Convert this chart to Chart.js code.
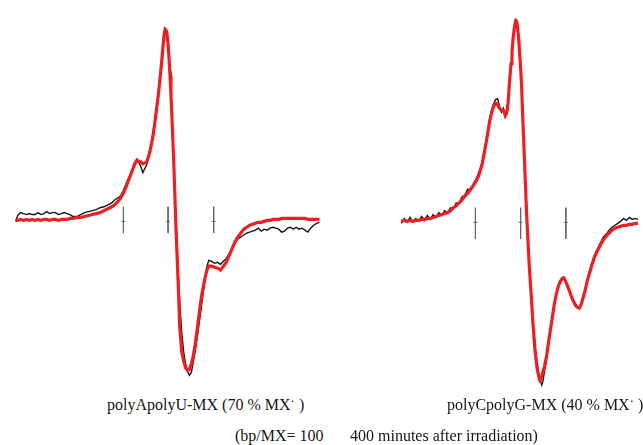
<!DOCTYPE html>
<html>
<head>
<meta charset="utf-8">
<script src="https://cdn.jsdelivr.net/npm/chart.js@4"></script>
<style>
  html, body { margin: 0; padding: 0; background: #fff; }
  body { width: 643px; height: 445px; position: relative; overflow: hidden; }
  .panel { position: absolute; top: 0; height: 395px; }
  .lbl { position: absolute; font-family: "Liberation Serif", "DejaVu Serif", serif; font-size: 16px; color: #161616; white-space: nowrap; line-height: 18px; }
  .rad { position: relative; top: -5px; font-size: 13px; }
</style>
</head>
<body>
<div class="panel" style="left:0;width:340px;"><canvas id="left"></canvas></div>
<div class="panel" style="left:380px;width:263px;"><canvas id="right"></canvas></div>
<div class="lbl" style="left:107px;top:396px;">polyApolyU-MX (70 % MX<span class="rad">·</span> )</div>
<div class="lbl" style="left:447px;top:396px;">polyCpolyG-MX (40 % MX<span class="rad">·</span> )</div>
<div class="lbl" style="left:235px;top:427px;">(bp/MX= 100</div>
<div class="lbl" style="left:350px;top:427px;">400 minutes after irradiation)</div>
<script>
// ---- polyApolyU-MX panel (field offset from centre marker, arb. units; signal, arb. units)
const leftField = [
  -157,-155,-152,-149,-146,-143,-140,-137,-134,-131,
  -128,-125,-122,-119,-116,-113,-110,-107,-104,-101,
  -98,-94,-90,-86,-82,-78,-74,-70,-66,-62,
  -58,-55,-52,-49,-46,-43,-40,-37,-34,-32,
  -30,-28,-26,-24,-22,-20,-18,-16,-14,-12,
  -10,-8,-6,-5,-4,-3,-2,-1,0,1,
  2,3,4,5,6,7,8,9,10,11,
  12,14,16,18,20,22,24,26,28,30,
  32,34,37,40,42,45,48,51,54,57,
  60,63,66,69,72,75,78,81,84,87,
  90,93,96,99,102,105,108,111,114,117,
  120,123,126,129,132,135,138,141,144,147,
  150,153,156];
const leftRed = [
  -1,-1,0,-1,0,-1,0,-1,0,-1,
  0,0,-1,0,0,-1,0,0,0,1,
  1,2,2,3,4,5,6,7,9,11,
  13,15,18,22,27,34,42,50,58,61,
  59,59,57,58,59,65,73,83,96,112,
  128,147,168,180,190,195,194,190,180,165,
  148,128,105,80,55,25,-5,-30,-55,-80,
  -110,-135,-145,-152,-155,-154,-148,-140,-128,-113,
  -97,-82,-65,-52,-48,-48,-49,-50,-52,-48,
  -44,-37,-30,-23,-18,-14,-10,-8,-6,-5,
  -4,-3,-3,-2,-1,-1,0,0,0,1,
  1,1,1,1,1,1,1,1,0,0,
  0,0,0];
const leftBlack = [
  -2,4,7,6,5,6,5,5,7,5,
  6,8,6,7,7,5,6,7,6,5,
  3,3,5,7,8,9,10,12,13,15,
  17,20,22,24,30,37,44,51,56,60,
  58,54,48,52,56,64,74,86,99,115,
  130,150,170,182,191,194,192,188,182,168,
  152,130,108,83,55,25,0,-20,-42,-65,
  -85,-115,-135,-148,-156,-160,-157,-146,-135,-121,
  -107,-92,-70,-48,-42,-43,-45,-44,-46,-43,
  -40,-35,-29,-24,-20,-18,-16,-14,-13,-12,
  -11,-9,-12,-10,-11,-9,-8,-9,-10,-13,
  -12,-9,-8,-10,-8,-10,-9,-11,-13,-9,
  -6,-4,-3];
const leftMarkers = [-46, 0, 47];

// ---- polyCpolyG-MX panel
const rightField = [
  -124,-121,-118,-115,-112,-109,-106,-103,-100,-97,
  -94,-91,-88,-85,-82,-79,-76,-73,-70,-67,
  -64,-61,-58,-55,-52,-49,-46,-44,-42,-40,
  -38,-36,-34,-32,-30,-28,-26,-24,-22,-20,
  -18,-16,-14,-13,-12,-11,-10,-9,-8,-7,
  -6,-5,-4,-3,-2,-1,0,1,2,3,
  4,5,6,7,8,9,11,13,15,17,
  19,20,21,22,23,25,27,29,31,33,
  35,37,39,41,43,45,47,49,51,53,
  55,57,59,61,63,65,67,69,71,74,
  77,80,83,86,89,92,95,98,101,104,
  107,110,113,116,119,122];
const rightRed = [
  0,1,0,1,0,1,1,2,2,3,
  3,4,5,6,7,8,9,11,14,16,
  19,22,26,29,33,37,42,46,52,59,
  69,80,92,104,112,118,121,120,116,114,
  114,109,114,122,137,150,162,174,186,195,
  202,206,205,197,187,172,157,139,112,87,
  62,37,12,-8,-28,-46,-76,-108,-133,-150,
  -160,-163,-162,-159,-155,-148,-138,-124,-111,-98,
  -85,-75,-67,-62,-59,-58,-62,-67,-72,-78,
  -82,-86,-88,-89,-85,-78,-71,-62,-55,-45,
  -36,-30,-24,-19,-15,-12,-9,-7,-6,-5,
  -4,-4,-3,-3,-2,-2];
const rightBlack = [
  -2,3,-1,4,-1,3,0,5,1,6,
  2,7,4,9,6,11,9,14,13,19,
  19,25,27,33,32,39,44,49,54,61,
  71,81,94,106,115,121,125,126,118,112,
  116,107,111,120,135,149,161,172,184,193,
  201,205,203,198,189,174,160,142,117,92,
  67,40,17,-6,-28,-46,-76,-104,-128,-145,
  -157,-162,-165,-168,-165,-153,-140,-126,-111,-98,
  -83,-74,-66,-61,-58,-57,-62,-68,-73,-78,
  -83,-87,-89,-89,-84,-76,-70,-61,-53,-43,
  -34,-28,-22,-16,-13,-9,-6,-4,-2,0,
  3,1,4,2,3,2];
const rightMarkers = [-47, 0, 47];

const RED = 'rgb(236,32,36)';
const BLACK = '#141414';
const MARK = '#666';

function pts(xs, ys) { return xs.map((x, i) => ({ x: x, y: ys[i] })); }
function markerSegs(xs, top, bottom) {
  const out = [];
  xs.forEach((x, i) => {
    out.push({ x: x, y: top }, { x: x, y: bottom });
    if (i < xs.length - 1) out.push({ x: (x + xs[i + 1]) / 2, y: null });
  });
  return out;
}

function makeChart(id, field, red, black, markers, xr, yr, mTop, mBot, mMid) {
  new Chart(document.getElementById(id), {
    type: 'line',
    data: {
      datasets: [
        { data: pts(field, red), borderColor: RED, borderWidth: 3.2, pointRadius: 0, tension: 0, clip: false },
        { data: pts(field, black), borderColor: BLACK, borderWidth: 1.4, pointRadius: 0, tension: 0, clip: false },
        { data: markerSegs(markers, mTop, mBot), borderColor: MARK, borderWidth: 1, pointRadius: 0, spanGaps: false, clip: false },
        { data: markers.map(x => ({ x: x, y: mMid })), showLine: false, pointStyle: 'line', pointRadius: 2, borderColor: MARK, borderWidth: 1, clip: false }
      ]
    },
    options: {
      responsive: true,
      maintainAspectRatio: false,
      animation: false,
      devicePixelRatio: 1,
      layout: { padding: 0 },
      events: [],
      plugins: { legend: { display: false }, tooltip: { enabled: false } },
      scales: {
        x: { type: 'linear', display: false, min: xr[0], max: xr[1] },
        y: { type: 'linear', display: false, min: yr[0], max: yr[1] }
      }
    }
  });
}

makeChart('left', leftField, leftRed, leftBlack, leftMarkers, [-168, 172], [-175, 220], 13, -14, -2);
makeChart('right', rightField, rightRed, rightBlack, rightMarkers, [-141, 122], [-173, 222], 14, -18, -1);
</script>
</body>
</html>
